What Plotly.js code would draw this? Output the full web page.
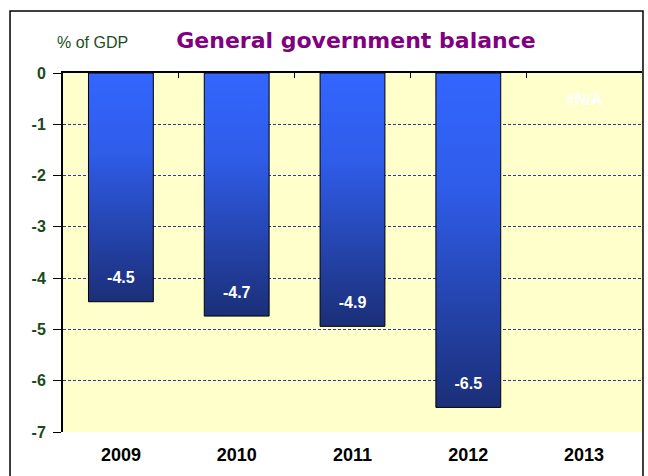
<!DOCTYPE html>
<html>
<head>
<meta charset="utf-8">
<script src="https://cdn.plot.ly/plotly-3.0.1.min.js"></script>
<style>
html,body{margin:0;padding:0;background:#fff;}
#chart{width:648px;height:476px;}
</style>
</head>
<body>
<div id="chart"></div>
<script>
// Data
var years = ['2009', '2010', '2011', '2012', '2013'];
var balance = [-4.46, -4.74, -4.94, -6.52, null];
var yTickVals = [0, -1, -2, -3, -4, -5, -6, -7];
var yTickText = ['0', '-1', '-2', '-3', '-4', '-5', '-6', '-7'];
var naLabel = '#N/A';

var labelY = balance.map(function (v) { return v === null ? -0.55 : v + 0.44; });
var labelText = balance.map(function (v) { return v === null ? naLabel : v.toFixed(1); });

var barTrace = {
  type: 'bar',
  x: years,
  y: balance,
  width: 0.56,
  marker: {color: '#3366ff', line: {color: '#000000', width: 1}},
  textposition: 'none',
  hoverinfo: 'none',
  showlegend: false
};
var labelTrace = {
  type: 'scatter', mode: 'text',
  x: years, y: labelY, text: labelText,
  textposition: 'middle center',
  textfont: {family: 'Liberation Sans, Arial, sans-serif', size: 16, color: '#ffffff', weight: 'bold'},
  hoverinfo: 'none', showlegend: false
};
var topAxisTrace = {
  type: 'scatter', mode: 'none',
  x: [0, 4], y: [null, null],
  xaxis: 'x2', yaxis: 'y',
  hoverinfo: 'none', showlegend: false
};

var layout = {
  width: 648, height: 476,
  margin: {l: 63, r: 6, t: 73, b: 44, pad: 0},
  paper_bgcolor: '#ffffff',
  plot_bgcolor: '#ffffcc',
  title: {
    text: 'General government balance',
    x: 0.506, xref: 'paper', xanchor: 'center',
    y: 0.916, yanchor: 'middle',
    font: {family: 'DejaVu Sans, Verdana, sans-serif', size: 22, color: '#800080', weight: 'bold'}
  },
  xaxis: {
    type: 'category', range: [-0.5, 4.5],
    showline: false, showgrid: false, zeroline: false, ticks: '',
    ticklabelstandoff: 10,
    tickfont: {family: 'Liberation Sans, Arial, sans-serif', size: 18, color: '#000000', weight: 'bold'},
    fixedrange: true
  },
  xaxis2: {
    overlaying: 'x', side: 'top', type: 'linear', range: [-0.5, 4.5],
    showline: true, linecolor: '#000000', linewidth: 2,
    ticks: 'inside', ticklen: 5, tickcolor: '#000000', tickwidth: 1,
    tickvals: [0.5, 1.5, 2.5, 3.5, 4.5], showticklabels: false,
    showgrid: false, zeroline: false
  },
  yaxis: {
    range: [-7, 0],
    tickvals: yTickVals, ticktext: yTickText,
    showline: true, linecolor: '#000000', linewidth: 2,
    ticks: 'outside', ticklen: 8, tickcolor: '#000000', tickwidth: 1,
    ticklabelstandoff: 4,
    showgrid: true, gridcolor: '#333399', gridwidth: 1, griddash: '3px,2px',
    zeroline: false,
    tickfont: {family: 'Liberation Sans, Arial, sans-serif', size: 16, color: '#1a4a1a', weight: 'bold'},
    fixedrange: true
  },
  shapes: [{
    type: 'rect', xref: 'paper', yref: 'paper',
    x0: -0.0915, x1: 1.0017, y0: -0.15, y1: 1.1727,
    line: {color: '#000000', width: 1.5}, fillcolor: 'rgba(0,0,0,0)', layer: 'below'
  }],
  annotations: [{
    xref: 'paper', yref: 'paper', x: -0.014, y: 1.085, xanchor: 'left', yanchor: 'middle',
    text: '% of GDP', showarrow: false,
    font: {family: 'Liberation Sans, Arial, sans-serif', size: 16, color: '#1e4d1e'}
  }],
  showlegend: false,
  bargap: 0.44
};

Plotly.newPlot('chart', [barTrace, labelTrace, topAxisTrace], layout, {staticPlot: true}).then(function (gd) {
  var svg = gd.querySelector('svg.main-svg');
  var ns = 'http://www.w3.org/2000/svg';
  var defs = svg.querySelector('defs') || svg.insertBefore(document.createElementNS(ns, 'defs'), svg.firstChild);
  var grad = document.createElementNS(ns, 'linearGradient');
  grad.setAttribute('id', 'barGrad');
  grad.setAttribute('x1', '0'); grad.setAttribute('y1', '0');
  grad.setAttribute('x2', '0'); grad.setAttribute('y2', '1');
  [['0', '#3366ff'], ['0.35', '#2f5ce8'], ['1', '#1b2f78']].forEach(function (s) {
    var st = document.createElementNS(ns, 'stop');
    st.setAttribute('offset', s[0]);
    st.setAttribute('stop-color', s[1]);
    grad.appendChild(st);
  });
  defs.appendChild(grad);
  gd.querySelectorAll('.bars .point path').forEach(function (p) {
    p.style.fill = 'url(#barGrad)';
  });
});
</script>
</body>
</html>
